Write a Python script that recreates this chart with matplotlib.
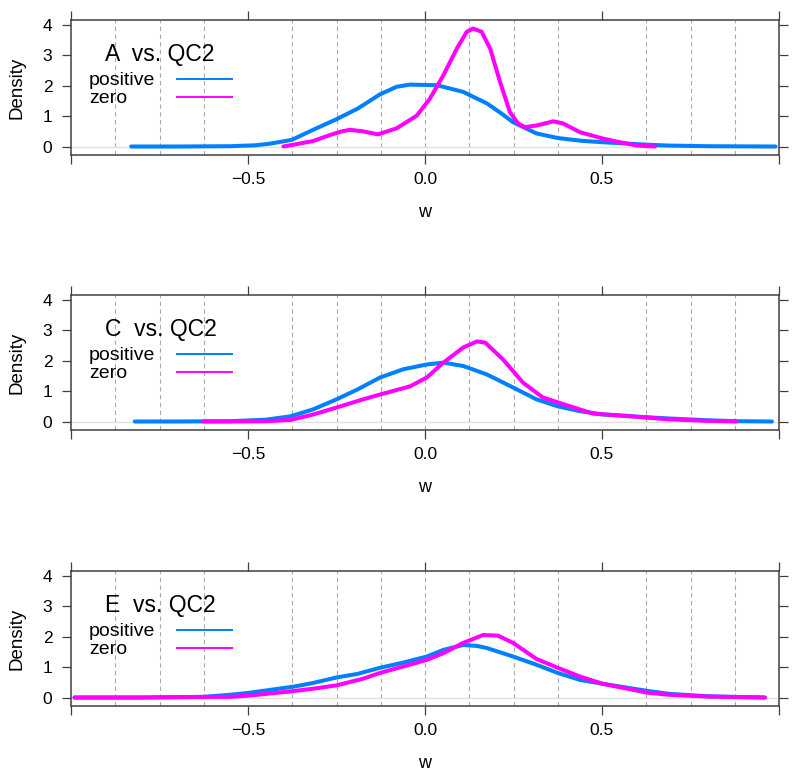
import numpy as np
import matplotlib
matplotlib.use("Agg")
import matplotlib.pyplot as plt

plt.rcParams["font.family"] = ["Liberation Sans", "DejaVu Sans"]

# density curves, one pair per panel
titles = ["A  vs. QC2", "C  vs. QC2", "E  vs. QC2"]
series_names = ["positive", "zero"]

a_pos_w = [-0.83, -0.70, -0.55, -0.48, -0.44, -0.41, -0.376, -0.316, -0.25, -0.19,
           -0.127, -0.08, -0.042, 0.034, 0.108, 0.175, 0.212, 0.249, 0.315, 0.375,
           0.44, 0.503, 0.627, 0.69, 0.80, 0.99]
a_pos_d = [0.0, 0.0, 0.01, 0.04, 0.09, 0.15, 0.22, 0.55, 0.90, 1.25,
           1.72, 1.97, 2.04, 2.02, 1.80, 1.42, 1.12, 0.80, 0.43, 0.28,
           0.19, 0.14, 0.06, 0.03, 0.01, 0.0]
a_zero_w = [-0.40, -0.376, -0.316, -0.268, -0.235, -0.212, -0.175, -0.133, -0.08, -0.023,
            0.014, 0.052, 0.09, 0.118, 0.136, 0.16, 0.184, 0.212, 0.24, 0.263,
            0.282, 0.315, 0.362, 0.39, 0.438, 0.503, 0.551, 0.60, 0.65]
a_zero_d = [0.0, 0.05, 0.18, 0.38, 0.50, 0.55, 0.50, 0.40, 0.60, 1.02,
            1.58, 2.35, 3.23, 3.78, 3.89, 3.78, 3.23, 2.13, 1.13, 0.76,
            0.64, 0.69, 0.83, 0.76, 0.47, 0.26, 0.14, 0.03, 0.0]

c_pos_w = [-0.82, -0.70, -0.55, -0.45, -0.38, -0.316, -0.25, -0.19, -0.127, -0.062,
           0.005, 0.052, 0.108, 0.175, 0.249, 0.315, 0.375, 0.438, 0.503, 0.627,
           0.69, 0.80, 0.88, 0.98]
c_pos_d = [0.0, 0.0, 0.01, 0.06, 0.17, 0.40, 0.73, 1.06, 1.45, 1.72,
           1.88, 1.94, 1.83, 1.55, 1.12, 0.73, 0.50, 0.34, 0.23, 0.14,
           0.10, 0.04, 0.01, 0.0]
c_zero_w = [-0.627, -0.55, -0.45, -0.38, -0.316, -0.25, -0.175, -0.127, -0.042, 0.005,
            0.052, 0.108, 0.147, 0.17, 0.22, 0.277, 0.333, 0.41, 0.475, 0.551,
            0.69, 0.80, 0.88]
c_zero_d = [0.0, 0.0, 0.01, 0.05, 0.23, 0.46, 0.73, 0.89, 1.16, 1.45,
            1.94, 2.44, 2.64, 2.60, 2.05, 1.28, 0.79, 0.50, 0.26, 0.20,
            0.07, 0.02, 0.0]

e_pos_w = [-0.99, -0.80, -0.627, -0.551, -0.50, -0.37, -0.316, -0.25, -0.19, -0.127,
           -0.062, 0.005, 0.052, 0.108, 0.147, 0.175, 0.249, 0.315, 0.375, 0.438,
           0.503, 0.627, 0.69, 0.80, 0.96]
e_pos_d = [0.0, 0.0, 0.02, 0.09, 0.15, 0.36, 0.48, 0.66, 0.78, 0.98,
           1.15, 1.35, 1.57, 1.73, 1.70, 1.63, 1.35, 1.08, 0.81, 0.58,
           0.45, 0.22, 0.12, 0.04, 0.0]
e_zero_w = [-0.99, -0.80, -0.627, -0.551, -0.50, -0.38, -0.316, -0.25, -0.175, -0.127,
            -0.062, 0.005, 0.052, 0.108, 0.164, 0.206, 0.249, 0.315, 0.375, 0.438,
            0.503, 0.627, 0.69, 0.80, 0.96]
e_zero_d = [0.0, 0.0, 0.02, 0.02, 0.06, 0.20, 0.29, 0.40, 0.62, 0.81,
            1.02, 1.24, 1.46, 1.80, 2.06, 2.04, 1.80, 1.27, 0.98, 0.69,
            0.45, 0.16, 0.09, 0.03, 0.0]

panels = [
    (a_pos_w, a_pos_d, a_zero_w, a_zero_d),
    (c_pos_w, c_pos_d, c_zero_w, c_zero_d),
    (e_pos_w, e_pos_d, e_zero_w, e_zero_d),
]

blue = "#0080ff"
magenta = "#ff00ff"
frame = "#404040"

grid_x = [-0.875, -0.75, -0.625, -0.375, -0.25, -0.125, 0.0,
          0.125, 0.25, 0.375, 0.625, 0.75, 0.875]

fig = plt.figure(figsize=(8, 7.8), dpi=100)
bottoms = [1 - 155 / 780, 1 - 430 / 780, 1 - 706 / 780]

for i, (pw, pd_, zw, zd) in enumerate(panels):
    ax = fig.add_axes([71 / 800, bottoms[i], 708 / 800, 135 / 780])
    for gx in grid_x:
        ax.axvline(gx, color="#aaaaaa", lw=0.8, ls=(0, (4, 3)), zorder=1)
    ax.axhline(0, color="#e0e0e0", lw=1, zorder=1)
    ax.plot(pw, pd_, color=blue, lw=2.9, solid_capstyle="round",
            solid_joinstyle="round", zorder=3)
    ax.plot(zw, zd, color=magenta, lw=2.9, solid_capstyle="round",
            solid_joinstyle="round", zorder=4)

    ax.set_xlim(-1.0, 1.0)
    ax.set_ylim(-0.28, 4.17)
    ax.set_xticks([-1.0, -0.5, 0.0, 0.5, 1.0])
    ax.set_xticklabels(["", "\u22120.5", "0.0", "0.5", ""])
    ax.set_yticks([0, 1, 2, 3, 4])
    ax.tick_params(axis="both", direction="out", length=6.5, width=0.9,
                   color=frame, labelsize=12.5, top=True, right=True,
                   labeltop=False, labelright=False)
    ax.tick_params(axis="x", pad=6)
    ax.tick_params(axis="y", pad=7)
    for s in ax.spines.values():
        s.set_color(frame)
        s.set_linewidth(1.1)

    ax.set_xlabel("w", fontsize=13, labelpad=12)
    ax.set_ylabel("Density", fontsize=13.5, labelpad=12)

    ax.text(0.048, 0.745, titles[i], transform=ax.transAxes, fontsize=16.5,
            ha="left", va="center")
    ys = [0.555, 0.42]
    for name, col, yy in zip(series_names, [blue, magenta], ys):
        ax.text(0.0254, yy, name, transform=ax.transAxes, fontsize=14,
                ha="left", va="center")
        ax.plot([0.15, 0.227], [yy + 0.01, yy + 0.01], transform=ax.transAxes,
                color=col, lw=1.4)

plt.savefig("out.png", dpi=100)
